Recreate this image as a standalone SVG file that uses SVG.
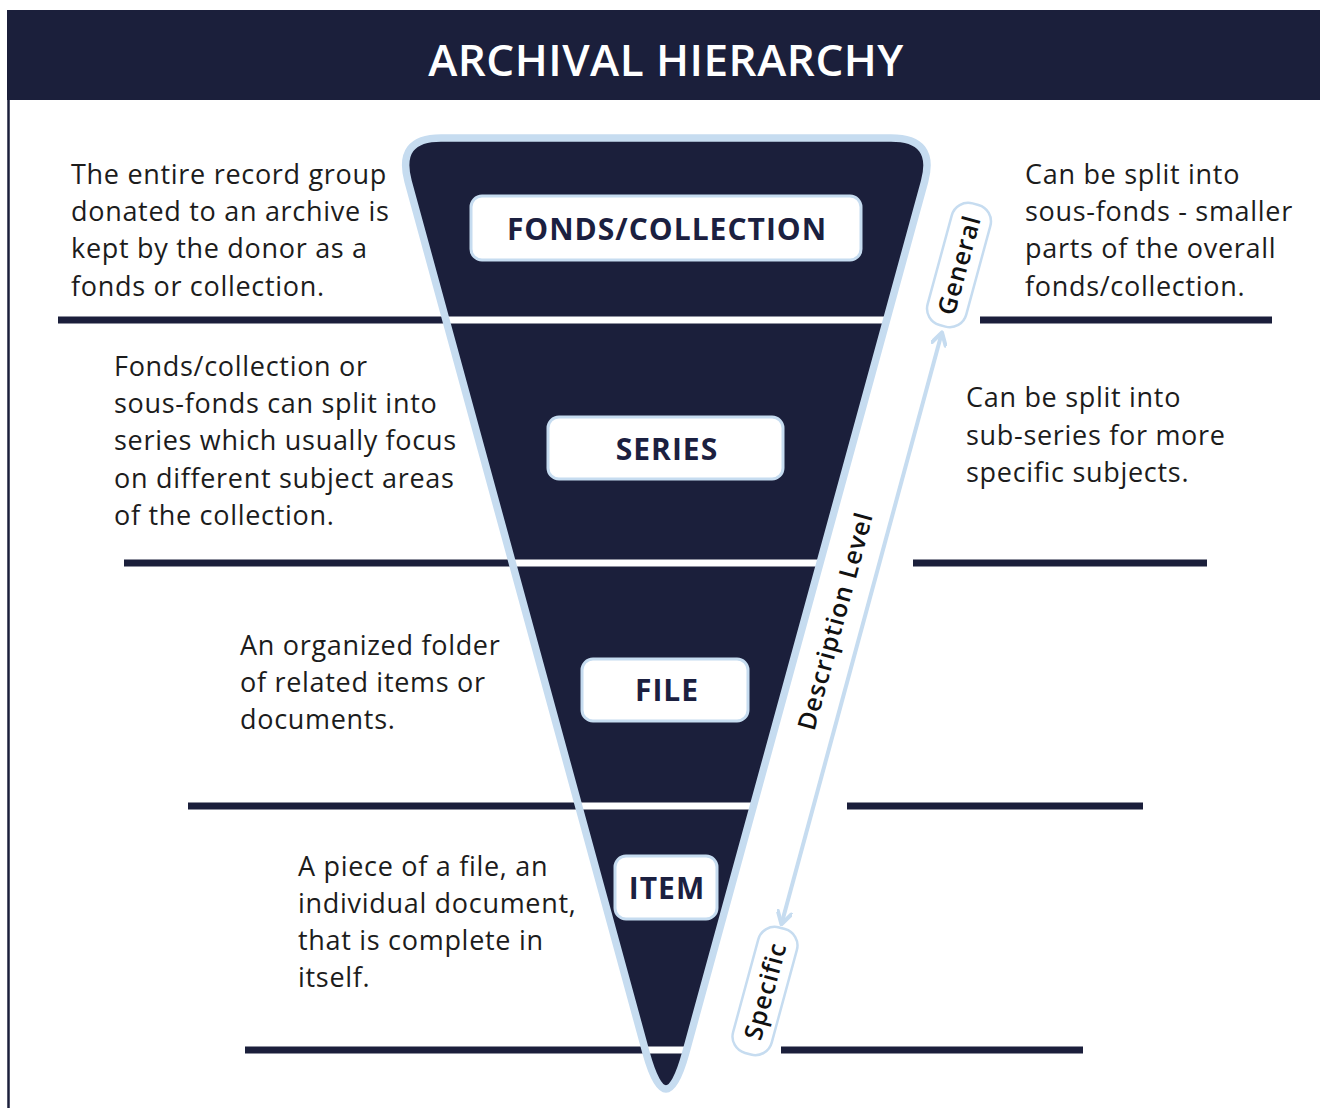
<svg xmlns="http://www.w3.org/2000/svg" width="1320" height="1108" viewBox="0 0 1320 1108">
  <style>
    .body { font-family: "Open Sans", "Liberation Sans", sans-serif; font-size: 27px; fill: #1c1c1c; letter-spacing: 0.7px; }
    .lbl { font-family: "Open Sans", "Liberation Sans", sans-serif; font-weight: 700; font-size: 30px; fill: #1b2040; text-anchor: middle; letter-spacing: 1px; }
    .tag { font-family: "Open Sans", "Liberation Sans", sans-serif; font-weight: 600; font-size: 25px; fill: #111111; text-anchor: middle; letter-spacing: 1px; }
    .box { fill: #ffffff; stroke: #c6dcf0; stroke-width: 3; }
    .dark { stroke: #1b1f3b; stroke-width: 7; }
  </style>
  <defs>
    <path id="funnelPath" d="M 441,138 L 891,138 Q 936.4,138 924.6,181.4 L 685.7,1053 Q 666,1125 646.1,1053 L 408.1,181.4 Q 396.3,138 441,138 Z"/>
    <clipPath id="funnelClip"><use href="#funnelPath"/></clipPath>
    <marker id="chev" viewBox="0 0 16 16" refX="13" refY="8" markerWidth="16" markerHeight="16" markerUnits="userSpaceOnUse" orient="auto-start-reverse">
      <path d="M2,1 L14,8 L2,15" fill="none" stroke="#c6dcf0" stroke-width="4" stroke-linecap="round" stroke-linejoin="round"/>
    </marker>
  </defs>

  <rect width="1320" height="1108" fill="#ffffff"/>

  <g id="header">
    <rect x="7" y="10" width="1313" height="90" fill="#1b1f3b"/>
    <line x1="8.5" y1="100" x2="8.5" y2="1108" stroke="#1b1f3b" stroke-width="2.5"/>
    <text x="666" y="76" text-anchor="middle" font-family="'Open Sans', 'Liberation Sans', sans-serif" font-weight="600" font-size="44" fill="#ffffff" letter-spacing="0.5">ARCHIVAL HIERARCHY</text>
  </g>

  <g id="separators">
    <line class="dark" x1="58" y1="320" x2="446" y2="320"/>
    <line class="dark" x1="980" y1="320" x2="1272" y2="320"/>
    <line class="dark" x1="124" y1="563" x2="512" y2="563"/>
    <line class="dark" x1="913" y1="563" x2="1207" y2="563"/>
    <line class="dark" x1="188" y1="806" x2="578" y2="806"/>
    <line class="dark" x1="847" y1="806" x2="1143" y2="806"/>
    <line class="dark" x1="245" y1="1050" x2="646" y2="1050"/>
    <line class="dark" x1="781" y1="1050" x2="1083" y2="1050"/>
  </g>

  <g id="funnel">
    <use href="#funnelPath" fill="#1b1f3b"/>
    <g clip-path="url(#funnelClip)" stroke="#ffffff" stroke-width="7">
      <line x1="380" y1="320" x2="960" y2="320"/>
      <line x1="380" y1="563" x2="960" y2="563"/>
      <line x1="380" y1="806" x2="960" y2="806"/>
      <line x1="380" y1="1050" x2="960" y2="1050"/>
    </g>
    <use href="#funnelPath" fill="none" stroke="#c6dcf0" stroke-width="7.5"/>
  </g>

  <g id="node-fonds">
    <rect class="box" x="471" y="196" width="390" height="64" rx="11"/>
    <text class="lbl" x="667" y="240">FONDS/COLLECTION</text>
  </g>
  <g id="node-series">
    <rect class="box" x="548" y="417" width="235" height="62" rx="11"/>
    <text class="lbl" x="667" y="460">SERIES</text>
  </g>
  <g id="node-file">
    <rect class="box" x="582" y="659" width="166" height="62" rx="11"/>
    <text class="lbl" x="667" y="701">FILE</text>
  </g>
  <g id="node-item">
    <rect class="box" x="615" y="856" width="102" height="63" rx="11"/>
    <text class="lbl" x="667" y="899">ITEM</text>
  </g>

  <g id="connectors">
    <line x1="941.7" y1="333.3" x2="781.7" y2="923.3" stroke="#c6dcf0" stroke-width="4" marker-start="url(#chev)" marker-end="url(#chev)"/>
  </g>

  <g id="description-level">
    <text class="tag" font-weight="500" font-size="26" letter-spacing="1.3" transform="translate(835,621) rotate(-74.8)" y="9">Description Level</text>
  </g>
  <g id="general">
    <g transform="translate(959,265) rotate(-74.8)">
      <rect x="-63" y="-20" width="126" height="40" rx="17" fill="#ffffff" stroke="#c6dcf0" stroke-width="2.5"/>
      <text class="tag" y="9">General</text>
    </g>
  </g>
  <g id="specific">
    <g transform="translate(765,991) rotate(-74.8)">
      <rect x="-65" y="-20" width="130" height="40" rx="17" fill="#ffffff" stroke="#c6dcf0" stroke-width="2.5"/>
      <text class="tag" y="9">Specific</text>
    </g>
  </g>

  <g id="text-fonds">
    <text class="body" x="71" y="184">The entire record group</text>
    <text class="body" x="71" y="221">donated to an archive is</text>
    <text class="body" x="71" y="258">kept by the donor as a</text>
    <text class="body" x="71" y="296">fonds or collection.</text>
  </g>
  <g id="text-fonds-right">
    <text class="body" x="1025" y="184">Can be split into</text>
    <text class="body" x="1025" y="221">sous-fonds - smaller</text>
    <text class="body" x="1025" y="258">parts of the overall</text>
    <text class="body" x="1025" y="296">fonds/collection.</text>
  </g>
  <g id="text-series">
    <text class="body" x="114" y="376">Fonds/collection or</text>
    <text class="body" x="114" y="413">sous-fonds can split into</text>
    <text class="body" x="114" y="450">series which usually focus</text>
    <text class="body" x="114" y="488">on different subject areas</text>
    <text class="body" x="114" y="525">of the collection.</text>
  </g>
  <g id="text-series-right">
    <text class="body" x="966" y="407">Can be split into</text>
    <text class="body" x="966" y="445">sub-series for more</text>
    <text class="body" x="966" y="482">specific subjects.</text>
  </g>
  <g id="text-file">
    <text class="body" x="240" y="655">An organized folder</text>
    <text class="body" x="240" y="692">of related items or</text>
    <text class="body" x="240" y="729">documents.</text>
  </g>
  <g id="text-item">
    <text class="body" x="298" y="876">A piece of a file, an</text>
    <text class="body" x="298" y="913">individual document,</text>
    <text class="body" x="298" y="950">that is complete in</text>
    <text class="body" x="298" y="987">itself.</text>
  </g>
</svg>
